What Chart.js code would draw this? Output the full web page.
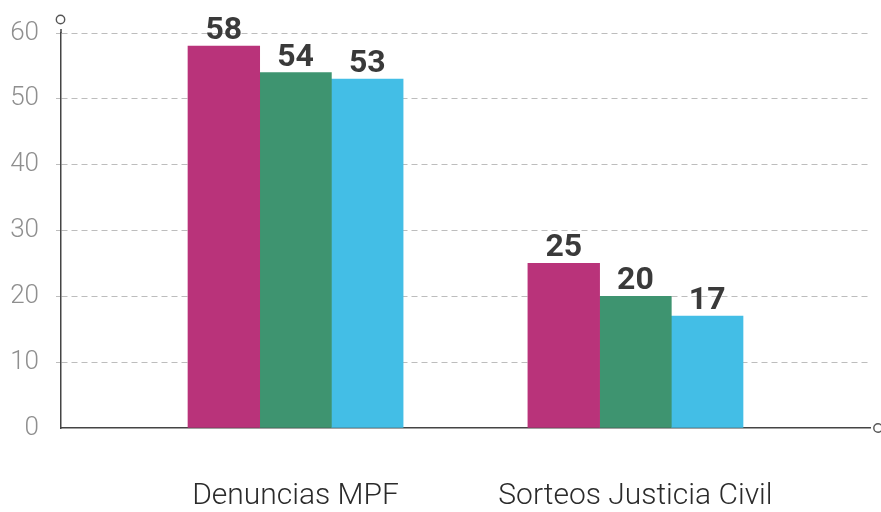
<!DOCTYPE html>
<html>
<head>
<meta charset="utf-8">
<script src="https://cdn.jsdelivr.net/npm/chart.js@4/dist/chart.umd.min.js"></script>
<style>
  html, body { margin: 0; padding: 0; background: #ffffff; }
  #wrap { width: 881px; height: 512px; position: relative; }
</style>
</head>
<body>
<div id="wrap"><canvas id="c" width="881" height="512"></canvas></div>
<script>
const categories = ['Denuncias MPF', 'Sorteos Justicia Civil'];
const seriesNames = ['Serie 1', 'Serie 2', 'Serie 3'];
const serie1 = [58, 25];
const serie2 = [54, 20];
const serie3 = [53, 17];
const yTicks = [0, 10, 20, 30, 40, 50, 60];

const colors = ['#B9337A', '#3E9470', '#43BEE6'];
const seriesValues = [serie1, serie2, serie3];

const datasets = seriesValues.map((vals, k) => ({
  label: seriesNames[k],
  data: categories.map((c, i) => ({ x: i, y: vals[i] })),
  backgroundColor: colors[k],
  borderWidth: 0,
  barThickness: 71.7
}));

const decoPlugin = {
  id: 'deco',
  afterDatasetsDraw(chart) {
    const ctx = chart.ctx;
    ctx.save();
    ctx.font = '700 32px Roboto';
    ctx.fillStyle = '#3a3a3a';
    ctx.textAlign = 'center';
    ctx.textBaseline = 'alphabetic';
    chart.data.datasets.forEach((ds, di) => {
      const meta = chart.getDatasetMeta(di);
      meta.data.forEach((bar, i) => {
        ctx.fillText(String(ds.data[i].y), bar.x, bar.y - 7);
      });
    });
    ctx.restore();
  },
  afterDraw(chart) {
    const ctx = chart.ctx;
    const a = chart.chartArea;
    ctx.save();
    ctx.strokeStyle = '#444';
    ctx.lineWidth = 1.5;
    ctx.beginPath();
    ctx.moveTo(a.left, a.top - 4);
    ctx.lineTo(a.left, a.top);
    ctx.stroke();
    ctx.strokeStyle = '#555';
    ctx.lineWidth = 1.4;
    ctx.beginPath();
    ctx.arc(a.left - 0.5, a.top - 13.5, 4.2, 0, Math.PI * 2);
    ctx.stroke();
    ctx.beginPath();
    ctx.arc(a.right + 8, a.bottom, 4.2, 0, Math.PI * 2);
    ctx.stroke();
    ctx.restore();
  }
};

new Chart(document.getElementById('c'), {
  type: 'bar',
  data: { datasets },
  options: {
    responsive: false,
    animation: false,
    devicePixelRatio: 1,
    layout: { padding: { top: 33, right: 11, bottom: 0, left: 0 } },
    plugins: { legend: { display: false }, tooltip: { enabled: false } },
    scales: {
      x: {
        type: 'linear',
        min: -0.69,
        max: 1.69,
        offset: false,
        afterBuildTicks(scale) { scale.ticks = categories.map((c, i) => ({ value: i })); },
        afterFit(scale) { scale.height = 84; },
        grid: { display: false, drawTicks: false, offset: false },
        border: { display: true, color: '#444', width: 1.5 },
        ticks: {
          callback: (v) => categories[v],
          padding: 53,
          color: '#2b2b2b',
          font: { family: 'Roboto', size: 30, weight: '300', lineHeight: 1 },
          maxRotation: 0,
          autoSkip: false
        }
      },
      y: {
        min: 0,
        max: 60,
        afterBuildTicks(scale) { scale.ticks = yTicks.map(v => ({ value: v })); },
        afterFit(scale) { scale.width = 61; },
        grid: {
          color: (c) => c.tick && c.tick.value === 0 ? 'rgba(0,0,0,0)' : '#bdbdbd',
          lineWidth: 1,
          drawTicks: true,
          tickLength: 5,
          tickBorderDash: [6, 4]
        },
        border: { display: true, color: '#444', width: 1.5, dash: [6, 4] },
        ticks: {
          padding: 17,
          color: '#8f8f8f',
          font: { family: 'Roboto', size: 26, weight: '300' }
        }
      }
    }
  },
  plugins: [decoPlugin]
});
</script>
</body>
</html>
